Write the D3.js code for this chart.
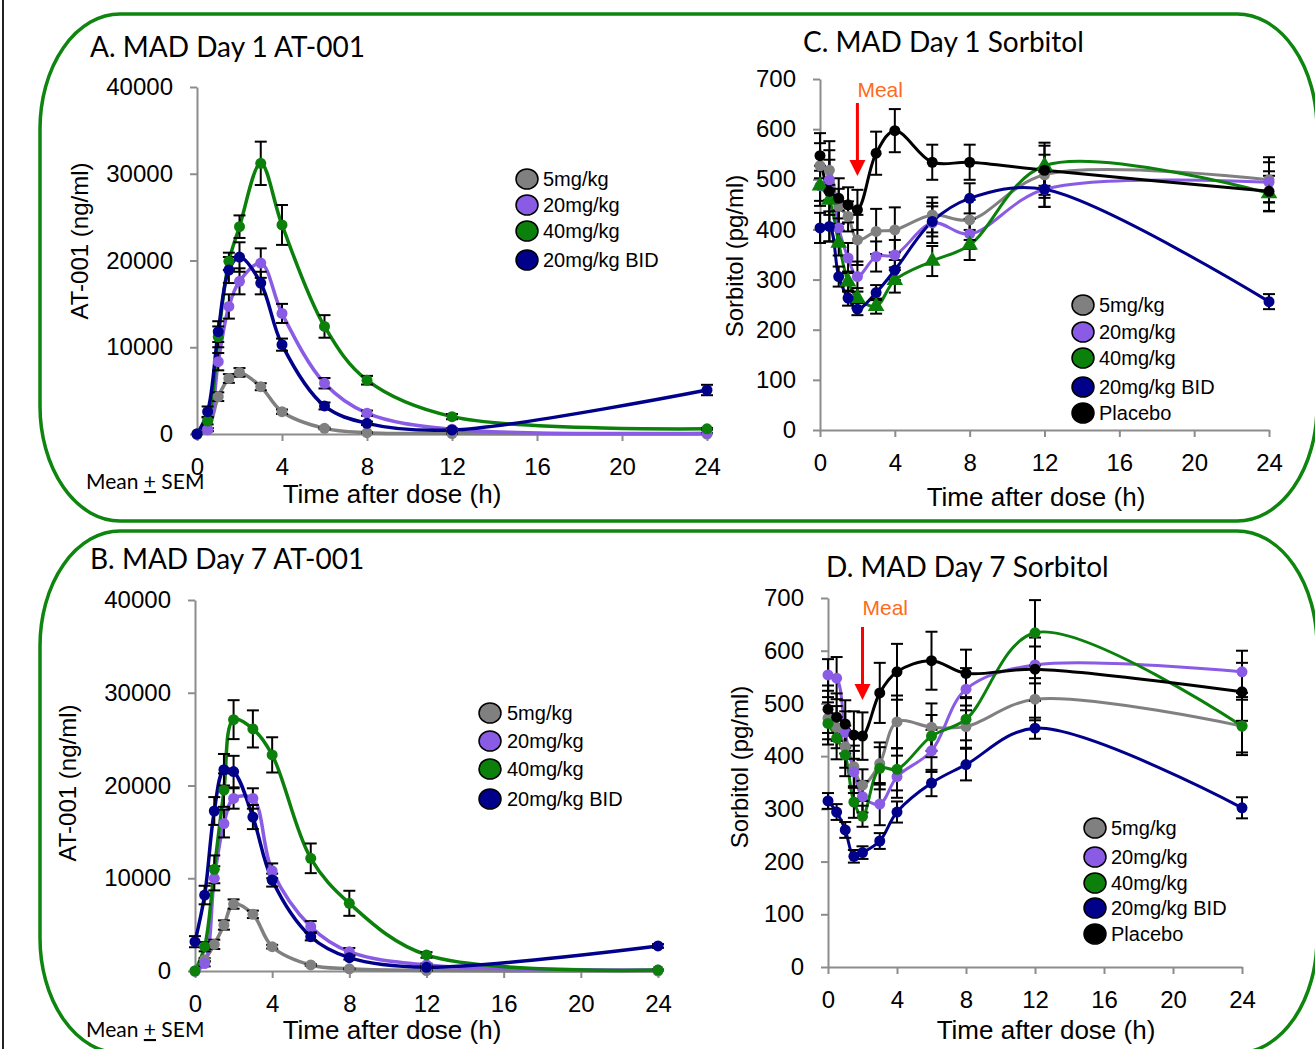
<!DOCTYPE html>
<html>
<head>
<meta charset="utf-8">
<title>MAD AT-001 and Sorbitol</title>
<script src="https://cdn.jsdelivr.net/npm/d3@7"></script>
<style>
  body { margin: 0; background: #fff; }
  text { font-family: "Liberation Sans", Arial, sans-serif; fill: #000; }
  .title, .note { font-family: Lato, "Open Sans", sans-serif; }
</style>
</head>
<body>
<script>
// sampling times (h) and axis ticks
var times = [0, 0.5, 1, 1.5, 2, 3, 4, 6, 8, 12, 24];
var xTicks = [0, 4, 8, 12, 16, 20, 24];
var atTicks = [0, 10000, 20000, 30000, 40000];
var sorbTicks = [0, 100, 200, 300, 400, 500, 600, 700];
var doseNames = ["5mg/kg", "20mg/kg", "40mg/kg", "20mg/kg BID", "Placebo"];
var doseColors = ["#808080", "#8a5be4", "#0b800b", "#00008b", "#000000"];

// A. Day 1 AT-001 (ng/ml), mean and SEM
var a5 = [0, 500, 4300, 6400, 7100, 5450, 2570, 650, 150, 50, 0];
var a5Sem = [0, 150, 500, 500, 500, 400, 250, 100, 50, 20, 0];
var a20 = [0, 500, 8340, 14700, 17600, 19700, 13900, 5850, 2400, 550, 100];
var a20Sem = [0, 200, 1000, 1400, 1500, 1700, 1100, 600, 300, 100, 30];
var a40 = [0, 1500, 11200, 19900, 23900, 31200, 24100, 12400, 6200, 2000, 600];
var a40Sem = [0, 400, 1200, 1000, 1300, 2500, 2300, 1300, 500, 300, 100];
var aBid = [0, 2570, 11800, 18900, 20400, 17400, 10300, 3230, 1230, 460, 5070];
var aBidSem = [0, 600, 1200, 1500, 1700, 1300, 700, 400, 200, 100, 600];

// B. Day 7 AT-001 (ng/ml)
var b5 = [0, 1200, 2870, 4960, 7220, 6110, 2620, 650, 230, 50, 0];
var b5Sem = [0, 200, 500, 500, 500, 400, 200, 100, 50, 20, 0];
var b20 = [0, 800, 9990, 15900, 18600, 18600, 10800, 4780, 2080, 650, 100];
var b20Sem = [0, 300, 1300, 1500, 1100, 1100, 800, 600, 400, 150, 30];
var b40 = [0, 2620, 10960, 19500, 27100, 26100, 23300, 12150, 7300, 1730, 100];
var b40Sem = [0, 500, 1500, 1800, 2100, 2000, 1900, 1600, 1350, 300, 50];
var bBid = [3160, 8190, 17250, 21700, 21500, 16600, 9800, 3700, 1440, 400, 2700];
var bBidSem = [600, 1000, 1500, 1700, 1700, 1300, 700, 400, 200, 100, 200];

// C. Day 1 sorbitol (pg/ml)
var c5 = [527, 518, 446, 426, 379, 396, 399, 429, 419, 509, 499];
var c5Sem = [45, 40, 35, 30, 50, 45, 45, 35, 40, 40, 45];
var c20 = [487, 499, 403, 343, 306, 346, 349, 413, 391, 480, 494];
var c20Sem = [40, 40, 35, 30, 30, 30, 30, 40, 30, 35, 40];
var c40 = [487, 459, 373, 296, 263, 247, 299, 337, 369, 527, 472];
var c40Sem = [30, 30, 25, 20, 20, 15, 25, 30, 30, 40, 35];
var cBid = [403, 406, 306, 263, 241, 274, 319, 416, 462, 480, 256];
var cBidSem = [30, 30, 20, 15, 12, 15, 20, 30, 30, 35, 15];
var cPbo = [547, 476, 462, 449, 439, 552, 597, 534, 534, 518, 476];
var cPboSem = [45, 100, 40, 35, 40, 43, 43, 35, 35, 55, 40];

// D. Day 7 sorbitol (pg/ml)
var d5 = [472, 455, 418, 380, 345, 386, 465, 455, 456, 508, 457];
var d5Sem = [40, 40, 40, 40, 30, 40, 50, 45, 40, 40, 50];
var d20 = [554, 548, 445, 370, 323, 309, 361, 410, 527, 573, 560];
var d20Sem = [30, 40, 40, 40, 30, 40, 40, 40, 40, 35, 40];
var d40 = [462, 434, 402, 313, 286, 377, 375, 438, 470, 634, 457];
var d40Sem = [40, 40, 40, 30, 20, 40, 40, 40, 40, 62, 55];
var dBid = [315, 294, 260, 210, 217, 239, 294, 349, 384, 453, 302];
var dBidSem = [15, 15, 15, 12, 12, 15, 20, 25, 30, 20, 20];
var dPbo = [489, 474, 461, 440, 438, 520, 560, 581, 557, 565, 522];
var dPboSem = [45, 45, 45, 45, 45, 57, 53, 55, 45, 60, 55];

var svg = d3.select("body").append("svg")
    .attr("width", 1315)
    .attr("height", 1049);

// left frame line + the two green rounded boxes
svg.append("line").attr("x1", 3).attr("x2", 3).attr("y1", 0).attr("y2", 1049)
    .attr("stroke", "#222").attr("stroke-width", 2);
[[14, 507], [531, 522]].forEach(function(b) {
  svg.append("rect").attr("x", 40).attr("y", b[0]).attr("width", 1277).attr("height", b[1])
      .attr("rx", 80).attr("ry", 115)
      .attr("fill", "none").attr("stroke", "#0e850e").attr("stroke-width", 3.5);
});

var panels = [
  {title: "A. MAD Day 1 AT-001", tx: 90, ty: 57, xr: [197, 707], yr: [434, 87], yMax: 40000, yTicks: atTicks,
   ylab: "AT-001 (ng/ml)", ylx: 80, yly: 241, xlx: 392, xly: 503,
   series: [[a5, a5Sem], [a20, a20Sem], [a40, a40Sem], [aBid, aBidSem]],
   leg: {cx: 527, tx: 543, ys: [179, 205, 231, 260]}, note: [86, 489], meal: false, tri: false},
  {title: "B. MAD Day 7 AT-001", tx: 90, ty: 569, xr: [195, 658], yr: [971, 600], yMax: 40000, yTicks: atTicks,
   ylab: "AT-001 (ng/ml)", ylx: 68, yly: 783, xlx: 392, xly: 1039,
   series: [[b5, b5Sem], [b20, b20Sem], [b40, b40Sem], [bBid, bBidSem]],
   leg: {cx: 490, tx: 507, ys: [713, 741, 769, 799]}, note: [86, 1037], meal: false, tri: false},
  {title: "C. MAD Day 1 Sorbitol", tx: 803, ty: 52, xr: [820, 1269], yr: [430, 79], yMax: 700, yTicks: sorbTicks,
   ylab: "Sorbitol (pg/ml)", ylx: 735, yly: 256, xlx: 1036, xly: 506,
   series: [[c5, c5Sem], [c20, c20Sem], [c40, c40Sem], [cBid, cBidSem], [cPbo, cPboSem]],
   leg: {cx: 1083, tx: 1099, ys: [305, 332, 358, 387, 413]}, note: null, meal: [97, 103, 176], tri: true},
  {title: "D. MAD Day 7 Sorbitol", tx: 826, ty: 577, xr: [828, 1242], yr: [967, 598], yMax: 700, yTicks: sorbTicks,
   ylab: "Sorbitol (pg/ml)", ylx: 740, yly: 767, xlx: 1046, xly: 1039,
   series: [[d5, d5Sem], [d20, d20Sem], [d40, d40Sem], [dBid, dBidSem], [dPbo, dPboSem]],
   leg: {cx: 1095, tx: 1111, ys: [828, 857, 883, 908, 934]}, note: null, meal: [615, 627, 700], tri: false}
];

panels.forEach(function(p) {
  var x = d3.scaleLinear().domain([0, 24]).range(p.xr);
  var y = d3.scaleLinear().domain([0, p.yMax]).range(p.yr);

  var gx = svg.append("g").attr("transform", "translate(0," + p.yr[0] + ")")
      .call(d3.axisBottom(x).tickValues(xTicks).tickSize(7).tickPadding(17).tickSizeOuter(0));
  var gy = svg.append("g").attr("transform", "translate(" + p.xr[0] + ",0)")
      .call(d3.axisLeft(y).tickValues(p.yTicks).tickFormat(d3.format("d")).tickSize(7).tickPadding(17).tickSizeOuter(0));
  [gx, gy].forEach(function(g) {
    g.select(".domain").attr("stroke", "#8c8c8c").attr("stroke-width", 2);
    g.selectAll(".tick line").attr("stroke", "#8c8c8c").attr("stroke-width", 2);
    g.selectAll(".tick text").attr("font-size", 24).attr("font-family", "Liberation Sans, Arial").attr("fill", "#000");
  });

  svg.append("text").attr("class", "title").attr("x", p.tx).attr("y", p.ty)
      .attr("font-size", 28).text(p.title);
  svg.append("text").attr("transform", "translate(" + p.ylx + "," + p.yly + ") rotate(-90)")
      .attr("text-anchor", "middle").attr("dy", "0.35em").attr("font-size", 24).text(p.ylab);
  svg.append("text").attr("x", p.xlx).attr("y", p.xly).attr("text-anchor", "middle")
      .attr("font-size", 26).text("Time after dose (h)");

  if (p.note) {
    var n = svg.append("text").attr("class", "note").attr("x", p.note[0]).attr("y", p.note[1]).attr("font-size", 21);
    n.append("tspan").text("Mean ");
    n.append("tspan").attr("text-decoration", "underline").text("+");
    n.append("tspan").text(" SEM");
  }

  if (p.meal) {
    var mx = x(2);
    svg.append("text").attr("x", mx).attr("y", p.meal[0]).attr("font-size", 21)
        .attr("fill", "#ff6a1a").style("fill", "#ff6a1a").text("Meal");
    svg.append("line").attr("x1", mx).attr("x2", mx).attr("y1", p.meal[1]).attr("y2", p.meal[2] - 12)
        .attr("stroke", "#ff0000").attr("stroke-width", 3);
    svg.append("path")
        .attr("d", "M" + mx + "," + p.meal[2] + "L" + (mx - 8) + "," + (p.meal[2] - 16) + "L" + (mx + 8) + "," + (p.meal[2] - 16) + "Z")
        .attr("fill", "#ff0000");
  }

  var line = d3.line()
      .x(function(d) { return x(d[0]); })
      .y(function(d) { return y(d[1]); })
      .curve(d3.curveCatmullRom.alpha(0.5));

  var pts = p.series.map(function(s) {
    return times.map(function(t, i) { return [t, s[0][i], s[1][i]]; });
  });

  pts.forEach(function(d, k) {
    svg.append("path").datum(d).attr("d", line)
        .attr("fill", "none").attr("stroke", doseColors[k]).attr("stroke-width", p.tri || p.meal ? 3 : 3.5);
  });

  pts.forEach(function(d) {
    var eb = svg.append("g").attr("stroke", "#000").attr("stroke-width", 2);
    d.filter(function(q) { return q[2] > 0; }).forEach(function(q) {
      var xx = x(q[0]), y1 = y(q[1] + q[2]), y2 = y(Math.max(0, q[1] - q[2]));
      eb.append("line").attr("x1", xx).attr("x2", xx).attr("y1", y1).attr("y2", y2);
      eb.append("line").attr("x1", xx - 6).attr("x2", xx + 6).attr("y1", y1).attr("y2", y1);
      eb.append("line").attr("x1", xx - 6).attr("x2", xx + 6).attr("y1", y2).attr("y2", y2);
    });
  });

  pts.forEach(function(d, k) {
    if (p.tri && k === 2) {
      svg.selectAll(null).data(d).enter().append("path")
          .attr("d", d3.symbol().type(d3.symbolTriangle).size(120))
          .attr("transform", function(q) { return "translate(" + x(q[0]) + "," + y(q[1]) + ")"; })
          .attr("fill", doseColors[k]);
    } else {
      svg.selectAll(null).data(d).enter().append("circle")
          .attr("cx", function(q) { return x(q[0]); })
          .attr("cy", function(q) { return y(q[1]); })
          .attr("r", 5.5).attr("fill", doseColors[k]);
    }
  });

  // legend
  p.leg.ys.forEach(function(ly, k) {
    svg.append("ellipse").attr("cx", p.leg.cx).attr("cy", ly).attr("rx", 11).attr("ry", 10)
        .attr("fill", doseColors[k]).attr("stroke", "#000").attr("stroke-width", 1.5);
    svg.append("text").attr("x", p.leg.tx).attr("y", ly + 7).attr("font-size", 20).text(doseNames[k]);
  });
});
</script>
</body>
</html>
